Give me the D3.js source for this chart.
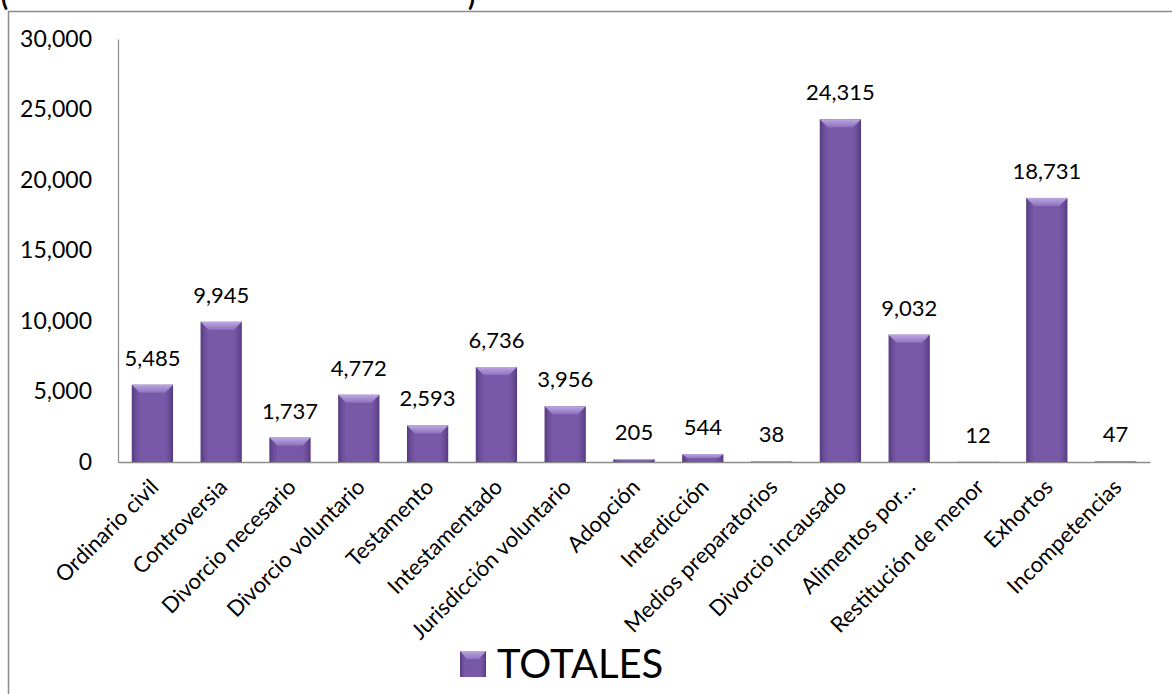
<!DOCTYPE html>
<html>
<head>
<meta charset="utf-8">
<script src="https://cdn.jsdelivr.net/npm/d3@7"></script>
<style>
  html, body { margin: 0; padding: 0; background: #ffffff; }
  svg { display: block; }
  text { font-family: Lato, "Open Sans", sans-serif; fill: #000; }
</style>
</head>
<body>
<svg id="chart" width="1172" height="694"></svg>
<script>
// Asuntos por tipo de juicio (totales)
const categories = [
  "Ordinario civil", "Controversia", "Divorcio necesario", "Divorcio voluntario",
  "Testamento", "Intestamentado", "Jurisdicción voluntario", "Adopción",
  "Interdicción", "Medios preparatorios", "Divorcio incausado", "Alimentos por…",
  "Restitución de menor", "Exhortos", "Incompetencias"
];
const totals = [5485, 9945, 1737, 4772, 2593, 6736, 3956, 205, 544, 38, 24315, 9032, 12, 18731, 47];
const yTickValues = [0, 5000, 10000, 15000, 20000, 25000, 30000];
const seriesName = "TOTALES";

const svg = d3.select("#chart");
const W = 1172, H = 694;
const plot = { left: 118, right: 1150, top: 39, bottom: 462 };

const defs = svg.append("defs");
// horizontal shading of the bar body: darker along both edges
const body = defs.append("linearGradient").attr("id", "barBody").attr("x1", "0").attr("x2", "1").attr("y1", "0").attr("y2", "0");
[[0, "#553a80"], [0.09, "#6a4c98"], [0.2, "#7759a8"], [0.8, "#7759a8"], [0.91, "#6a4c98"], [1, "#553a80"]]
  .forEach(([o, c]) => body.append("stop").attr("offset", o).attr("stop-color", c));
const topBevel = defs.append("linearGradient").attr("id", "barTop").attr("x1", "0").attr("x2", "0").attr("y1", "0").attr("y2", "1");
[[0, "#bba8e0"], [1, "#8f72c0"]].forEach(([o, c]) => topBevel.append("stop").attr("offset", o).attr("stop-color", c));

// outer chart frame (runs off the right and bottom edges)
svg.append("rect")
  .attr("x", 8.5).attr("y", 11.5).attr("width", W + 20).attr("height", H + 20)
  .attr("fill", "none").attr("stroke", "#8c8c8c").attr("stroke-width", 1.5);

// title, cut off by the top edge
svg.append("text").attr("x", 1).attr("y", 6).attr("font-size", 26).attr("font-weight", "bold").text("(");
svg.append("text").attr("x", 468).attr("y", 6).attr("font-size", 26).attr("font-weight", "bold").text(")");

const x = d3.scaleBand().domain(categories).range([plot.left, plot.right]).paddingInner(0.4).paddingOuter(0.2);
const y = d3.scaleLinear().domain([0, 30000]).range([plot.bottom, plot.top]);
const fmt = d3.format(",");

// value axis
const yAxis = svg.append("g").attr("transform", `translate(${plot.left},0)`)
  .call(d3.axisLeft(y).tickValues(yTickValues).tickFormat(fmt).tickSize(0).tickPadding(26));
yAxis.select(".domain").attr("stroke", "#8c8c8c").attr("stroke-width", 1.2);
yAxis.selectAll("text").attr("font-size", 23).attr("font-family", "Lato, sans-serif").attr("fill", "#000");

// category axis
const xAxis = svg.append("g").attr("transform", `translate(0,${plot.bottom})`)
  .call(d3.axisBottom(x).tickSize(0).tickFormat(""));
xAxis.select(".domain").attr("stroke", "#8c8c8c").attr("stroke-width", 1.5);

svg.append("g").selectAll("text").data(categories).join("text")
  .attr("transform", d => `translate(${x(d) + x.bandwidth() / 2 + 2},${plot.bottom + 21}) rotate(-45)`)
  .attr("text-anchor", "end")
  .attr("dy", "0.35em")
  .attr("font-size", 22)
  .text(d => d);

// bars with bevelled top
const rows = categories.map((c, i) => ({ c, v: totals[i] }));
const bars = svg.append("g").selectAll("g").data(rows).join("g");
bars.append("rect")
  .attr("x", d => x(d.c)).attr("y", d => y(d.v))
  .attr("width", x.bandwidth()).attr("height", d => plot.bottom - y(d.v))
  .attr("fill", "url(#barBody)");
bars.append("path")
  .attr("d", d => {
    const x0 = x(d.c), x1 = x0 + x.bandwidth(), yt = y(d.v);
    const b = Math.min(8, (plot.bottom - yt) / 2);
    const inset = Math.min(8, b * 1.4);
    return `M${x0},${yt}H${x1}L${x1 - inset},${yt + b}H${x0 + inset}Z`;
  })
  .attr("fill", "url(#barTop)");

// value labels
svg.append("g").selectAll("text").data(rows).join("text")
  .attr("x", d => x(d.c) + x.bandwidth() / 2)
  .attr("y", d => y(d.v) - 19)
  .attr("text-anchor", "middle")
  .attr("font-size", 22)
  .text(d => fmt(d.v));

// legend
const legend = svg.append("g").attr("transform", "translate(460,651)");
legend.append("rect").attr("x", 0).attr("y", 0).attr("width", 26).attr("height", 26).attr("fill", "url(#barBody)");
legend.append("path").attr("d", "M0,0H26L19,8H7Z").attr("fill", "url(#barTop)");
legend.append("text").attr("x", 37).attr("y", 27).attr("font-size", 40).text(seriesName);
</script>
</body>
</html>
